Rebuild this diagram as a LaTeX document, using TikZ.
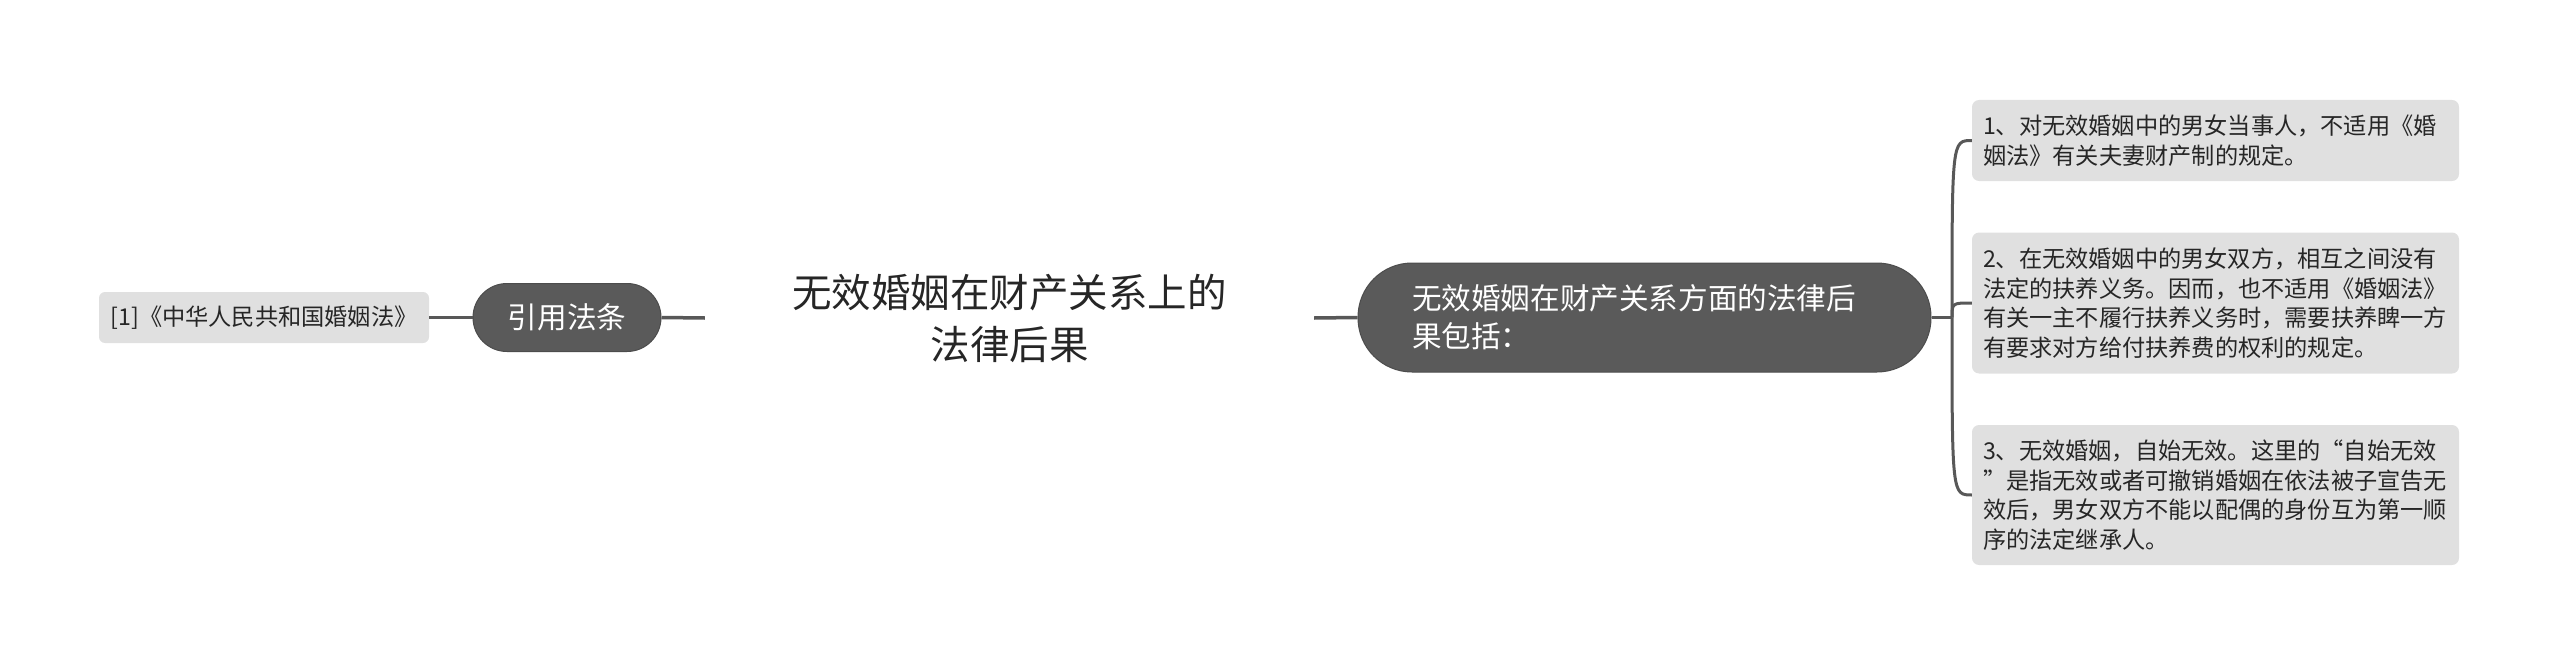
\documentclass[tikz,border=0pt]{standalone}
\usepackage{fontspec}
\setmainfont{Noto Sans CJK SC}
\definecolor{linegray}{HTML}{585858}
\definecolor{pillgray}{HTML}{5A5A5A}
\definecolor{pillborder}{HTML}{4C4C4C}
\definecolor{boxgray}{HTML}{E0E0E0}
\definecolor{txt}{HTML}{262626}
\tikzset{
  conn/.style={draw=linegray, line width=3.5pt},
  branch/.style={draw=linegray, line width=3pt},
  leafbox/.style={fill=boxgray, rounded corners=7pt, inner xsep=11pt, inner ysep=0pt, text=txt, align=left, font=\fontsize{23.2}{29.5}\selectfont},
  darkpill/.style={fill=pillgray, draw=pillborder, line width=1pt, text=white, inner ysep=0pt},
}
\begin{document}
\begin{tikzpicture}[x=1pt, y=-1pt]
\path[use as bounding box] (0,0) rectangle (2560,666);

% root
\node[text=txt, align=center, minimum width=609pt, inner sep=0pt, font=\fontsize{39.5}{52}\selectfont] (root) at (1009.5,318) {无效婚姻在财产关系上的\\法律后果};

% left side
\node[darkpill, rounded corners=34pt, minimum width=188pt, minimum height=68pt, font=\fontsize{29.6}{36}\selectfont] (cite) at (567,317.5) {引用法条};
\node[leafbox, align=center, rounded corners=6pt, minimum width=330pt, minimum height=51pt, inner xsep=0pt] (law) at (264,317.5) {[1]《中华人民共和国婚姻法》};

% right main
\node[darkpill, rounded corners=54pt, text width=465pt, inner xsep=54pt, minimum height=109pt, align=left, font=\fontsize{29.6}{38}\selectfont] (main) at (1644.5,317.5) {无效婚姻在财产关系方面的法律后\\果包括：};

% children
\node[leafbox, text width=465pt, minimum height=81pt] (c1) at (2215.5,140.5) {1、对无效婚姻中的男女当事人，不适用《婚\\姻法》有关夫妻财产制的规定。};
\node[leafbox, text width=465pt, minimum height=141pt] (c2) at (2215.5,303) {2、在无效婚姻中的男女双方，相互之间没有\\法定的扶养义务。因而，也不适用《婚姻法》\\有关一主不履行扶养义务时，需要扶养睥一方\\有要求对方给付扶养费的权利的规定。};
\node[leafbox, text width=465pt, minimum height=140pt] (c3) at (2215.5,495) {3、无效婚姻，自始无效。这里的“自始无效\\”是指无效或者可撤销婚姻在依法被子宣告无\\效后，男女双方不能以配偶的身份互为第一顺\\序的法定继承人。};

% connectors
\draw[conn] (law.east) -- (cite.west);
\draw[conn] (cite.east) -- (root.west);
\draw[conn] (root.east) -- (main.west);
\coordinate (fork) at (1952,317.5);
\draw[conn] (main.east) -- (fork);
\draw[branch] (fork) .. controls (fork |- c1.west) and (fork |- c1.west) .. (c1.west);
\draw[branch] (fork) .. controls (fork |- c2.west) and (fork |- c2.west) .. (c2.west);
\draw[branch] (fork) .. controls (fork |- c3.west) and (fork |- c3.west) .. (c3.west);
\end{tikzpicture}
\end{document}
